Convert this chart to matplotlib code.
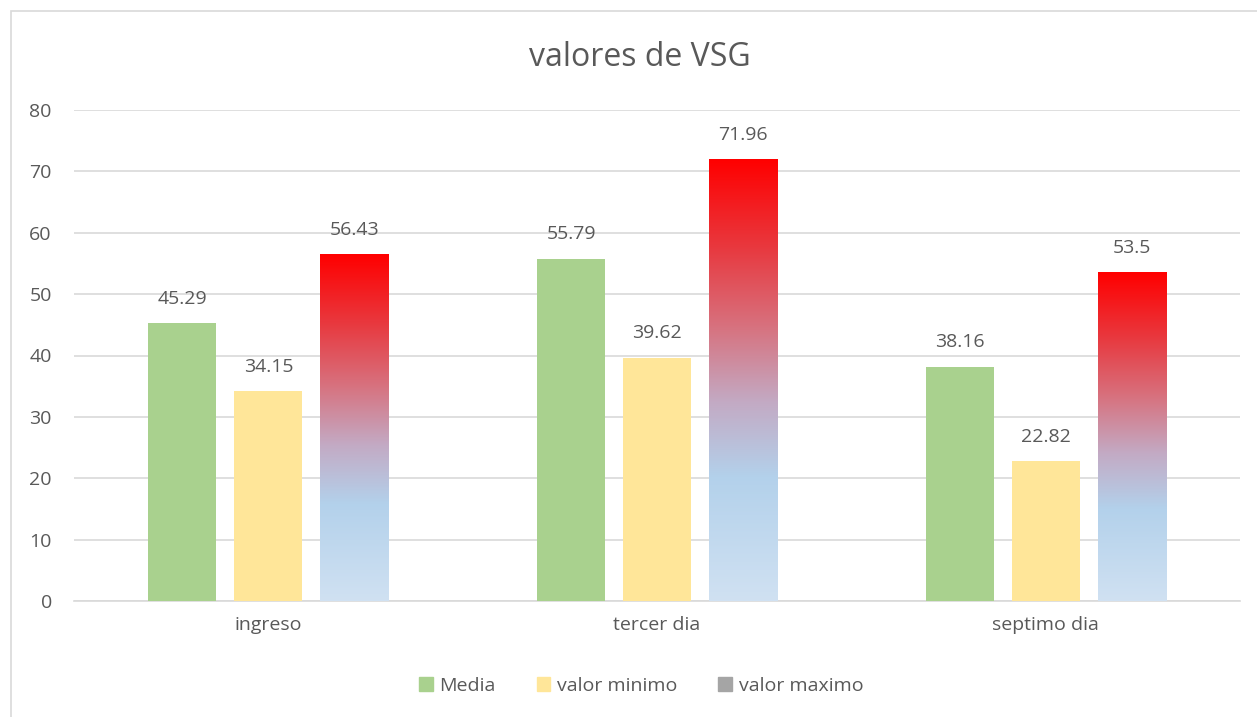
import matplotlib.pyplot as plt
import numpy as np
from matplotlib.colors import LinearSegmentedColormap
from matplotlib.patches import Rectangle, Patch

# data
categorias = ['ingreso', 'tercer dia', 'septimo dia']
media = [45.29, 55.79, 38.16]
valor_minimo = [34.15, 39.62, 22.82]
valor_maximo = [56.43, 71.96, 53.5]

txt = '#595959'
plt.rcParams['font.family'] = ['Open Sans', 'DejaVu Sans']

fig = plt.figure(figsize=(12.57, 7.17), dpi=100)
ax = fig.add_axes([74 / 1257, 1 - 601 / 717, 1166 / 1257, 491 / 717])

# chart border (only top/left visible in the original crop)
fig.patches.append(Rectangle((11 / 1257, -0.1), 1.2, 1 - 11 / 717 + 0.1,
                             transform=fig.transFigure, fill=False,
                             edgecolor='#D9D9D9', lw=1.2))

x = np.arange(len(categorias))
w = 0.175
d = 0.221

b1 = ax.bar(x - d, media, w, color='#A9D18E', zorder=3)
b2 = ax.bar(x, valor_minimo, w, color='#FFE699', zorder=3)
b3 = ax.bar(x + d, valor_maximo, w, color='none', zorder=3)

# gradient fill for max bars
cmap = LinearSegmentedColormap.from_list('grad', [
    (0.0, '#D0E1F2'), (0.28, '#B3D1EB'), (0.45, '#C3AAC4'),
    (0.62, '#D7727F'), (0.80, '#E8393F'), (1.0, '#FF0000')])
grad = np.linspace(0, 1, 256).reshape(-1, 1)
for r in b3:
    x0, y0 = r.get_x(), r.get_y()
    ax.imshow(grad, cmap=cmap, origin='lower', aspect='auto', zorder=3,
              extent=(x0, x0 + r.get_width(), y0, y0 + r.get_height()))

for bars, vals in [(b1, media), (b2, valor_minimo), (b3, valor_maximo)]:
    for r, v in zip(bars, vals):
        ax.text(r.get_x() + r.get_width() / 2, v + 2.5, f'{v:g}',
                ha='center', va='bottom', fontsize=14, color=txt)

ax.set_xlim(-0.5, 2.5)
ax.set_ylim(0, 80)
ax.set_yticks(range(0, 81, 10))
ax.set_xticks(x)
ax.set_xticklabels(categorias)
ax.grid(axis='y', color='#D9D9D9', lw=1.2, zorder=0)
ax.set_axisbelow(True)
for s in ['top', 'right', 'left']:
    ax.spines[s].set_visible(False)
ax.spines['bottom'].set_color('#D9D9D9')
ax.spines['bottom'].set_linewidth(1.2)
ax.tick_params(length=0, labelsize=14, labelcolor=txt)
ax.tick_params(axis='x', pad=11)
ax.tick_params(axis='y', pad=16)

fig.text(0.509, 1 - 57 / 717, 'valores de VSG', ha='center', va='center',
         fontsize=23, color=txt)

handles = [Patch(color='#A9D18E', label='Media'),
           Patch(color='#FFE699', label='valor minimo'),
           Patch(color='#A5A5A5', label='valor maximo')]
fig.legend(handles=handles, loc='center', bbox_to_anchor=(0.51, 1 - 686 / 717),
           ncol=3, frameon=False, fontsize=14, labelcolor=txt,
           handlelength=0.7, handleheight=0.7, handletextpad=0.35,
           columnspacing=2.1)

fig.savefig('out.png', dpi=100, facecolor='white')
